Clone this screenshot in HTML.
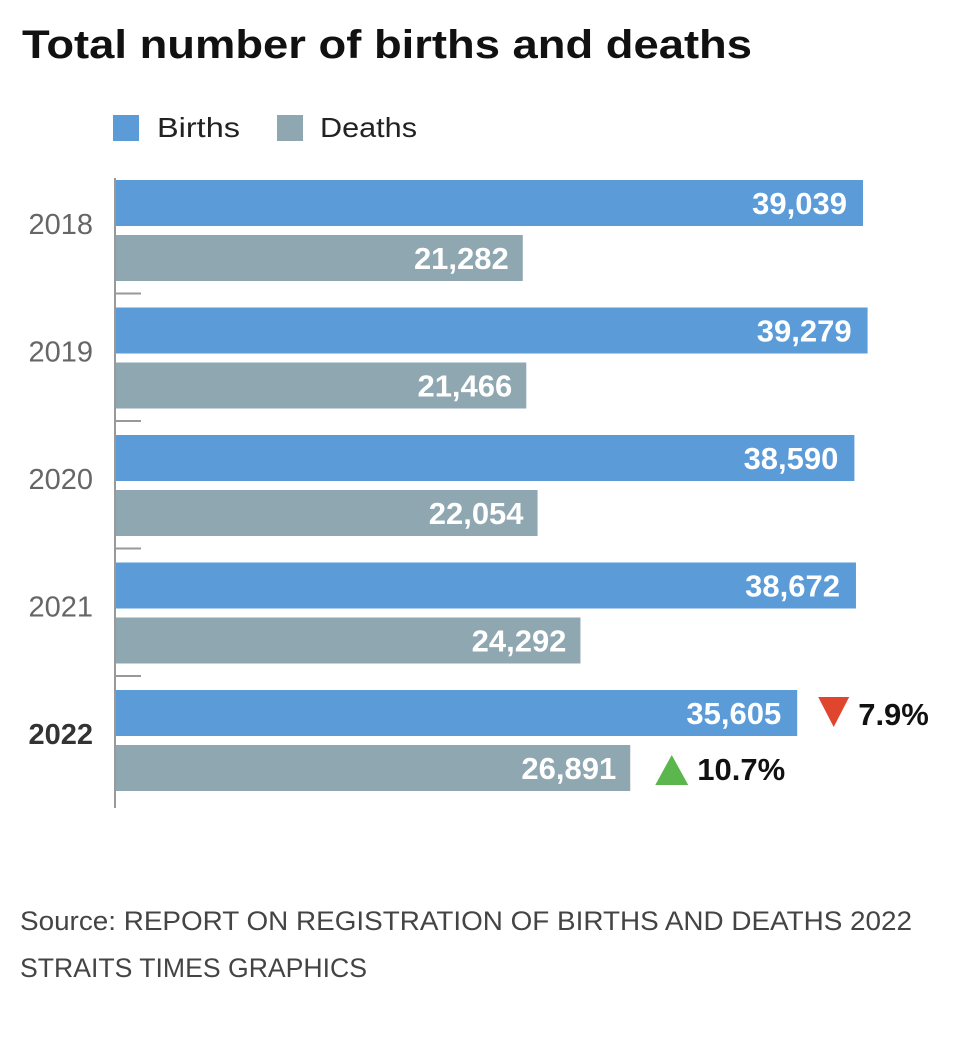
<!DOCTYPE html>
<html><head><meta charset="utf-8"><style>
body{margin:0;width:960px;height:1040px;background:#fff;font-family:"Liberation Sans",sans-serif;overflow:hidden}
</style></head><body>
<svg width="960" height="1040">
<text x="22" y="58" font-size="40" font-weight="bold" fill="#111" textLength="730" lengthAdjust="spacingAndGlyphs">Total number of births and deaths</text>
<rect x="113" y="115" width="26" height="26" fill="#5b9bd8"/>
<text x="157" y="137" font-size="28" fill="#222" textLength="83" lengthAdjust="spacingAndGlyphs">Births</text>
<rect x="277" y="115" width="26" height="26" fill="#8fa7b1"/>
<text x="320" y="137" font-size="28" fill="#222" textLength="97" lengthAdjust="spacingAndGlyphs">Deaths</text>
<g id="plot"></g>
<text x="20" y="930" font-size="27" fill="#444" textLength="892" lengthAdjust="spacingAndGlyphs">Source: REPORT ON REGISTRATION OF BIRTHS AND DEATHS 2022</text>
<text x="20" y="977" font-size="27" fill="#444" textLength="347" lengthAdjust="spacingAndGlyphs">STRAITS TIMES GRAPHICS</text>
</svg>
<script>
const years=["2018","2019","2020","2021","2022"];
const births=[39039,39279,38590,38672,35605];
const deaths=[21282,21466,22054,24292,26891];
const changes=["7.9%","10.7%"];
const NS="http://www.w3.org/2000/svg";
const g=document.getElementById('plot');
const x0=115,k=748/39039;
const xs=v=>x0+v*k;
const yb=i=>180+i*127.5;
function mk(t,a,txt){const e=document.createElementNS(NS,t);for(const q in a)e.setAttribute(q,a[q]);if(txt!=null)e.textContent=txt;g.appendChild(e);return e;}
const ax=mk('line',{x1:x0,y1:178,x2:x0,y2:808,stroke:'#999','stroke-width':2});


years.forEach((y,i)=>{
 const top=yb(i);
 const b=mk('rect',{x:x0+1,y:top,width:xs(births[i])-x0-1,height:46,fill:'#5b9bd8'});
 
 
 const d=mk('rect',{x:x0+1,y:top+55,width:xs(deaths[i])-x0-1,height:46,fill:'#8fa7b1'});
 
 
 const bl=mk('text',{x:xs(births[i])-16,y:top+34,'font-size':31,'font-weight':'bold',fill:'#fff','text-anchor':'end'},births[i].toLocaleString('en-US'));
 
 
 const dl=mk('text',{x:xs(deaths[i])-14,y:top+89,'font-size':31,'font-weight':'bold',fill:'#fff','text-anchor':'end'},deaths[i].toLocaleString('en-US'));
 
 
 const last=i===years.length-1;
 const yl=mk('text',{x:93,y:top+54,'font-size':29,fill:last?'#333':'#666','font-weight':last?'bold':'normal','text-anchor':'end'},y);
 
 
 if(i>0){const t=mk('line',{x1:x0,x2:x0+26,y1:top-14,y2:top-14,stroke:'#999','stroke-width':2});
 
 }
});
const li=years.length-1,lt=yb(li);
const bx=xs(births[li])+21;
const r=mk('polygon',{points:`${bx},${lt+7} ${bx+31},${lt+7} ${bx+15.5},${lt+37}`,fill:'#e0462d'});


const rt=mk('text',{x:bx+40,y:lt+35,'font-size':31,'font-weight':'bold',fill:'#111'},changes[0]);


const gx=xs(deaths[li])+25;
const gr=mk('polygon',{points:`${gx},${lt+95} ${gx+33},${lt+95} ${gx+16.5},${lt+65}`,fill:'#5cb64e'});


const gt=mk('text',{x:gx+42,y:lt+90,'font-size':31,'font-weight':'bold',fill:'#111'},changes[1]);


</script>
</body></html>
